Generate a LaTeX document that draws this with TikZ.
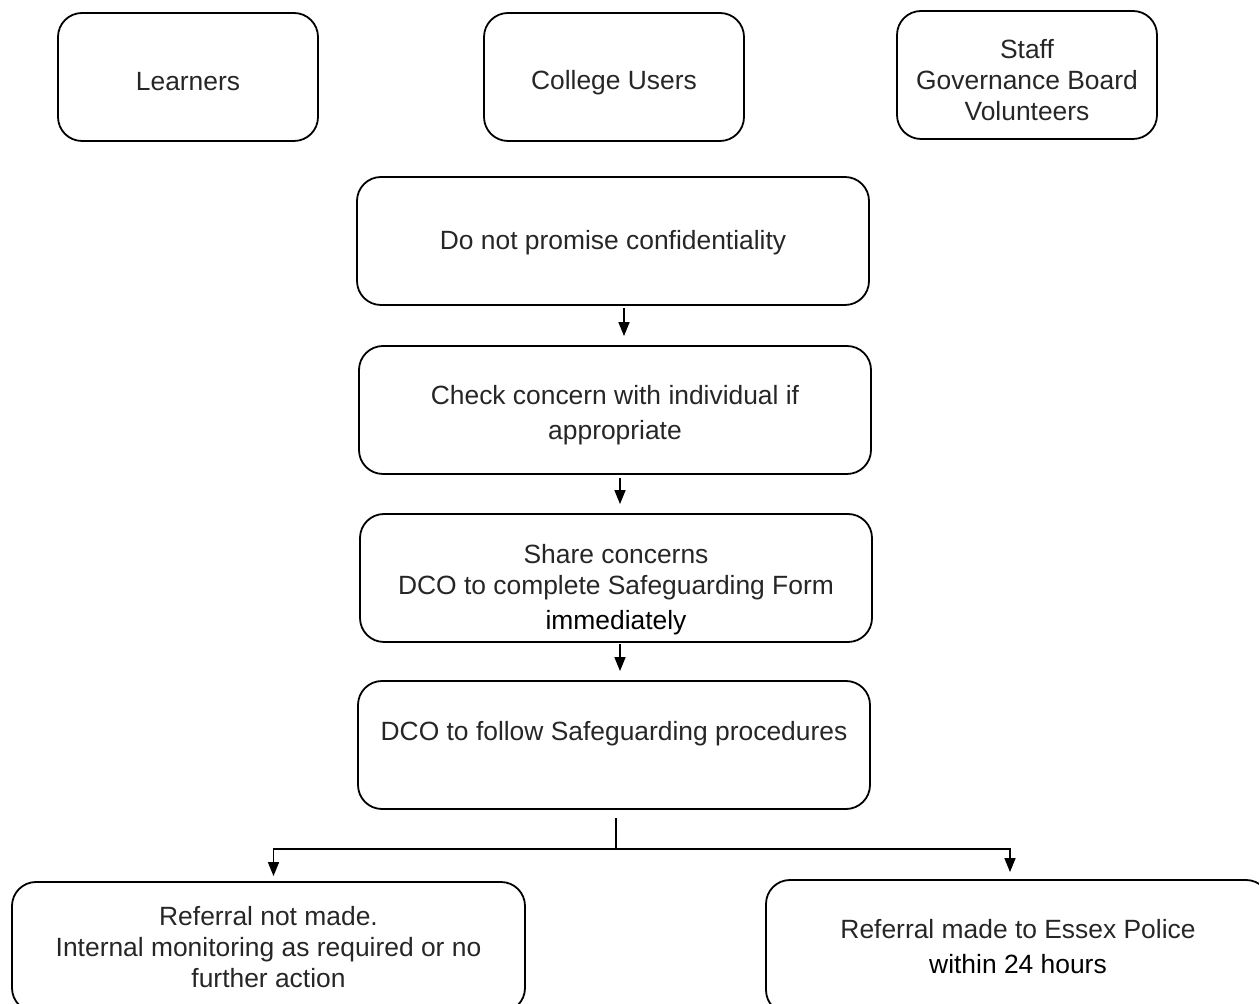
\documentclass[tikz,border=0pt]{standalone}
\usepackage{fontspec}
\setmainfont{Liberation Sans}
\usetikzlibrary{arrows.meta}

% empty first line, to push the text of a box a little down
\newcommand{\padtop}[1]{\mbox{}\\[#1]}

\begin{document}
\begin{tikzpicture}[%
  >={Triangle[length=7pt,width=5.5pt]},
  x=0.5pt, y=-0.5pt,
  box/.style={draw, line width=0.9pt, rounded corners=12pt, align=center,
    text=black!85, inner sep=0pt,
    font=\fontsize{13.2}{15.5}\selectfont},
  flow/.style={->, line width=0.8pt},
]

  \clip (0,0) rectangle (1259,1004);

  \node[box, minimum width=130pt, minimum height=64pt] (b0) at (188,77)
    {\padtop{-2pt}Learners};
  \node[box, minimum width=130pt, minimum height=64pt] (b1) at (614,77)
    {\padtop{0pt}College Users};
  \node[box, minimum width=130pt, minimum height=64pt] (b2) at (1027,75)
    {\padtop{-1pt}Staff\\Governance Board\\Volunteers};

  \node[box, minimum width=256pt, minimum height=64pt] (b3) at (613,241)
    {\padtop{-4pt}Do not promise confidentiality};
  \node[box, minimum width=256pt, minimum height=64pt] (b4) at (615,410)
    {\padtop{-1pt}Check concern with individual if\\[2pt]appropriate};
  \node[box, minimum width=256pt, minimum height=64pt] (b5) at (616,578)
    {\padtop{6pt}Share concerns\\DCO to complete Safeguarding Form\\[2pt]\textcolor{black}{immediately}};
  \node[box, minimum width=256pt, minimum height=64pt] (b6) at (614,745)
    {DCO to follow Safeguarding procedures\\[-1.8pt]};

  \node[box, minimum width=256.5pt, minimum height=65pt] (b7) at (268.5,947)
    {Referral not made.\\Internal monitoring as required or no\\further action};
  \node[box, minimum width=252pt, minimum height=67pt] (b8) at (1018,947)
    {Referral made to Essex Police\\[2pt]\textcolor{black}{within 24 hours}};

  % arrows between the steps
  \coordinate (a3) at ([xshift=5.5pt,yshift=-1pt]b3.south);
  \coordinate (a4) at ([xshift=2.5pt,yshift=-1.5pt]b4.south);
  \coordinate (a5) at ([xshift=2pt,yshift=-0.5pt]b5.south);
  \draw[flow] (a3) -- ([yshift=4.5pt]b4.north -| a3);
  \draw[flow] (a4) -- ([yshift=4.5pt]b5.north -| a4);
  \draw[flow] (a5) -- ([yshift=4.5pt]b6.north -| a5);

  % split into the two outcomes
  \coordinate (j) at (616,849);
  \draw[line width=0.8pt] ([yshift=-4pt]b6.south -| j) -- (j);
  \draw[flow] (j) -| ([xshift=2.5pt,yshift=2.5pt]b7.north);
  \draw[flow] (j) -| ([xshift=-4pt,yshift=3.5pt]b8.north);

\end{tikzpicture}
\end{document}
